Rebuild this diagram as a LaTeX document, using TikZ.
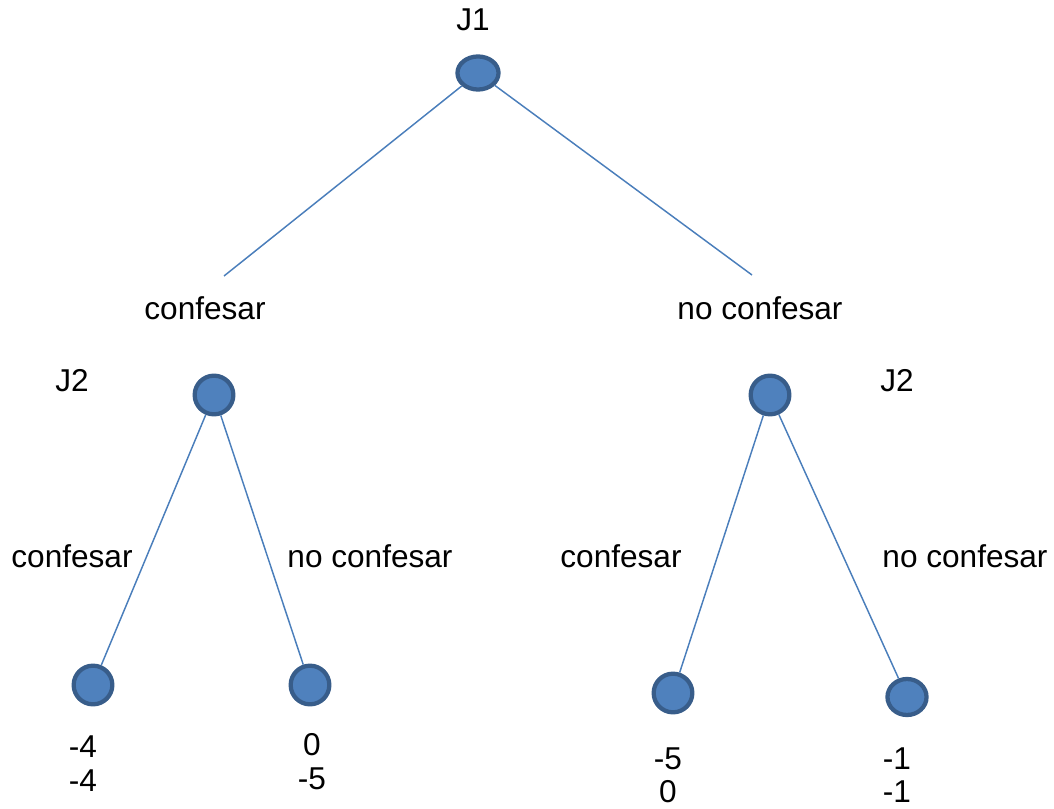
\documentclass[tikz,border=0pt]{standalone}
\usepackage{fontspec}
\setmainfont{Liberation Sans}
\usetikzlibrary{shapes.geometric}
\definecolor{nodefill}{HTML}{4F81BD}
\definecolor{nodeedge}{HTML}{385D8A}
\definecolor{edgeline}{HTML}{4A7EBB}
\begin{document}
\begin{tikzpicture}[x=0.75pt,y=-0.75pt,
  vtx/.style={ellipse,fill=nodefill,draw=nodeedge,line width=3.2pt,inner sep=0pt,
    minimum width=29pt,minimum height=29pt},
  branch/.style={draw=edgeline,line width=1.1pt},
  lbl/.style={font=\fontsize{23.7}{28}\selectfont,inner sep=0pt,anchor=center}]
\useasboundingbox (0,0) rectangle (1054,809);
% decision nodes
\node[vtx,minimum width=30.8pt,minimum height=24.8pt] (r) at (478,73) {};
\node[vtx] (a) at (214,395) {};
\node[vtx] (b) at (770,395) {};
% terminal nodes
\node[vtx] (aa) at (93,685) {};
\node[vtx] (ab) at (310,685) {};
\node[vtx] (ba) at (673,693) {};
\node[vtx,minimum width=29.3pt,minimum height=27pt] (bb) at (907,697) {};
% free ends of the first move
\coordinate (rl) at (224,276);
\coordinate (rr) at (752,275);
% branches
\draw[branch] (r) -- (rl);
\draw[branch] (r) -- (rr);
\draw[branch] (a) -- (aa);
\draw[branch] (a) -- (ab);
\draw[branch] (b) -- (ba);
\draw[branch] (b) -- (bb);
% players
\node[lbl] (tj1) at (473,20) {J1};
\node[lbl] (tj2a) at (72,381) {J2};
\node[lbl] (tj2b) at (897,381) {J2};
% actions
\node[lbl] (c1) at (205,308) {confesar};
\node[lbl] (n1) at (760,308) {no confesar};
\node[lbl] (c2) at (72,556) {confesar};
\node[lbl] (n2) at (370,556) {no confesar};
\node[lbl] (c3) at (621,556) {confesar};
\node[lbl] (n3) at (965,556) {no confesar};
% payoffs
\node[lbl] (p1) at (83,747) {-4};
\node[lbl] (p2) at (83,781) {-4};
\node[lbl] (p3) at (312,745) {0};
\node[lbl] (p4) at (312,779) {-5};
\node[lbl] (p5) at (668,759) {-5};
\node[lbl] (p6) at (668,792) {0};
\node[lbl] (p7) at (897,759) {-1};
\node[lbl] (p8) at (897,792) {-1};
\end{tikzpicture}
\end{document}
